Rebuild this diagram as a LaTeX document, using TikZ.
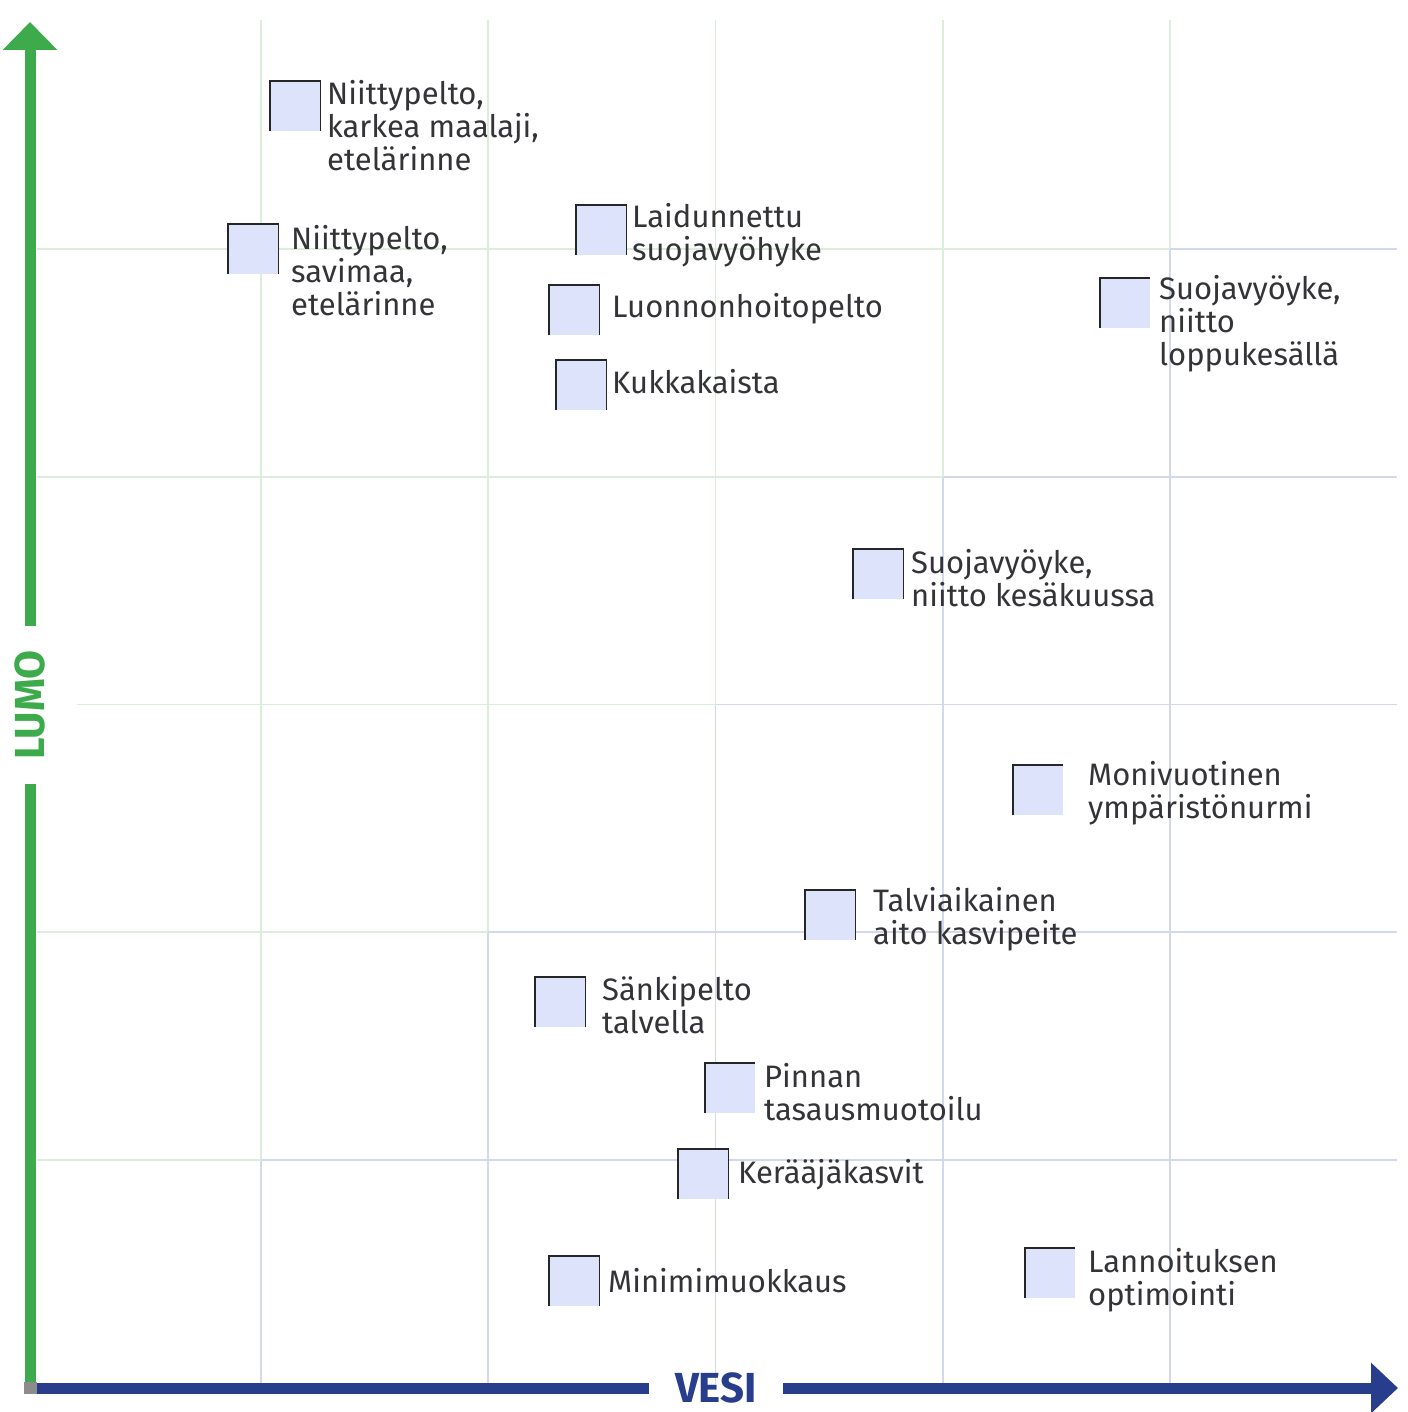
\documentclass[tikz,border=0pt]{standalone}
\usepackage{fontspec}
\setmainfont{Fira Sans}
\usepackage{xcolor}
\usepackage{tikz}
\usetikzlibrary{arrows.meta}
\definecolor{lumogreen}{RGB}{61,170,75}
\definecolor{vesiblue}{RGB}{40,62,140}
\definecolor{gridgreen}{RGB}{218,238,218}
\definecolor{gridblue}{RGB}{211,216,236}
\definecolor{markfill}{RGB}{220,227,251}
\definecolor{textgray}{RGB}{52,52,56}

\newcommand{\drawmarker}[3]{
  % square, open at the bottom
  \node[marker, anchor=north west] (#1) at (#2, #3) {};
  \draw[markerline] (#1.south west) |- (#1.north east) -- (#1.south east);
}
\newcommand{\drawmarkeropen}[3]{
  % square, only left and top edge
  \node[marker, anchor=north west] (#1) at (#2, #3) {};
  \draw[markerline] (#1.south west) |- (#1.north east);
}

\begin{document}
\begin{tikzpicture}[
        x=1pt, y=-1pt,
        marker/.style={fill=markfill, inner sep=0pt, minimum size=50pt},
        markerline/.style={draw=black!85, line width=1.6pt},
        itemtext/.style={anchor=west, align=left, inner sep=0pt, yshift=-2pt,
            text=textgray, font={\fontsize{31}{33}\selectfont}},
        axisname/.style={inner ysep=0pt, font={\fontsize{42}{42}\selectfont\bfseries}},
        gridg/.style={draw=gridgreen, line width=1.8pt},
        gridb/.style={draw=gridblue, line width=1.8pt},
        ]
        \useasboundingbox (0, 0) rectangle (1407, 1412);

        % grid, green above the staircase and blue below
        \foreach \i/\gs in {0/37, 1/37, 2/77, 3/37, 4/37} {
            \pgfmathsetmacro{\gx}{261 + 227.25*\i}
            \pgfmathsetmacro{\gy}{1160 - 227.75*\i}
            \draw[gridg] (\gx, 20) -- (\gx, \gy);
            \draw[gridb] (\gx, \gy) -- (\gx, 1384);
            \draw[gridg] (\gs, \gy) -- (\gx, \gy);
            \draw[gridb] (\gx, \gy) -- (1397, \gy);
        }

        % LUMO axis
        \coordinate (origin) at (30, 1384);
        \coordinate (lumotip) at (30, 22);
        \node[axisname, text=lumogreen, rotate=90, inner xsep=24pt] (lumo) at (30, 705) {LUMO};
        \draw[lumogreen, line width=11pt] (origin) -- (lumo);
        \draw[lumogreen, line width=11pt, -{Triangle[width=53pt, length=28pt]}] (lumo) -- (lumotip);

        % VESI axis
        \coordinate (vesistart) at (37, 1388);
        \coordinate (vesitip) at (1398, 1388);
        \node[axisname, text=vesiblue, inner xsep=26pt] (vesi) at (716, 1388) {VESI};
        \draw[vesiblue, line width=11pt] (vesistart) -- (vesi);
        \draw[vesiblue, line width=11pt, -{Triangle[width=49pt, length=27pt]}] (vesi) -- (vesitip);
        \fill[black!45] (24, 1382) rectangle (37, 1394);

        % measures
        \drawmarker{m1}{270}{81}
        \node[itemtext] (t1) at (327, 124) {Niittypelto,\\karkea maalaji,\\etelärinne};
        \drawmarker{m2}{228}{224}
        \node[itemtext] (t2) at (291, 269) {Niittypelto,\\savimaa,\\etelärinne};
        \drawmarker{m3}{576}{205}
        \node[itemtext] (t3) at (632, 233) {Laidunnettu\\suojavyöhyke};
        \drawmarker{m4}{549}{285}
        \node[itemtext] (t4) at (612, 307) {Luonnonhoitopelto};
        \drawmarker{m5}{556}{360}
        \node[itemtext] (t5) at (612, 380) {Kukkakaista};
        \drawmarkeropen{m6}{1100}{278}
        \node[itemtext] (t6) at (1159, 322) {Suojavyöyke,\\niitto\\loppukesällä};
        \drawmarker{m7}{853}{549}
        \node[itemtext] (t7) at (911, 576) {Suojavyöyke,\\niitto kesäkuussa};
        \drawmarkeropen{m8}{1013}{765}
        \node[itemtext] (t8) at (1088, 791) {Monivuotinen\\ympäristönurmi};
        \drawmarker{m9}{805}{890}
        \node[itemtext] (t9) at (873, 917) {Talviaikainen\\aito kasvipeite};
        \drawmarker{m10}{535}{977}
        \node[itemtext] (t10) at (602, 1003) {Sänkipelto\\talvella};
        \drawmarkeropen{m11}{705}{1063}
        \node[itemtext] (t11) at (764, 1090) {Pinnan\\tasausmuotoilu};
        \drawmarker{m12}{678}{1149}
        \node[itemtext] (t12) at (738, 1173) {Kerääjäkasvit};
        \drawmarker{m13}{549}{1256}
        \node[itemtext] (t13) at (608, 1279) {Minimimuokkaus};
        \drawmarkeropen{m14}{1025}{1248}
        \node[itemtext] (t14) at (1088, 1278) {Lannoituksen\\optimointi};
    \end{tikzpicture}
\end{document}
